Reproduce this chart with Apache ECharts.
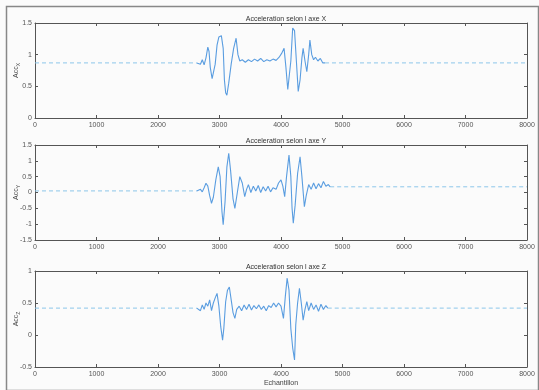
<!DOCTYPE html>
<html>
<head>
<meta charset="utf-8">
<script src="https://cdn.jsdelivr.net/npm/echarts@6/dist/echarts.min.js"></script>
<style>
  html, body { margin: 0; padding: 0; background: #fff; }
  #main { width: 539px; height: 390px; }
</style>
</head>
<body>
<div id="main"></div>
<script>
// acceleration data, [sample, value]
var titles = ['Acceleration selon l axe X', 'Acceleration selon l axe Y', 'Acceleration selon l axe Z'];
var yNames = ['X', 'Y', 'Z'];
var xLabel = 'Echantillon';

var yMin = [0, -1.5, -0.5];
var yMax = [1.5, 1.5, 1];

var calmX = [[[0, 0.87], [2630, 0.87]], [[4715, 0.87], [8000, 0.87]]];
var activeX = [[2630,0.87],[2660,0.9],[2690,0.85],[2720,0.92],[2750,0.84],[2780,0.95],[2810,1.12],[2830,1.05],[2850,0.8],
  [2880,0.62],[2900,0.6],[2930,0.85],[2960,1.15],[2990,1.28],[3030,1.3],[3060,1.1],[3080,0.6],[3100,0.4],[3120,0.36],
  [3150,0.55],[3190,0.85],[3230,1.1],[3270,1.26],[3300,1.0],[3330,0.9],[3370,0.92],[3420,0.88],[3470,0.92],[3520,0.89],
  [3570,0.93],[3620,0.9],[3670,0.94],[3720,0.89],[3770,0.92],[3820,0.9],[3870,0.93],[3920,0.91],[3970,0.96],[4010,1.02],
  [4050,1.1],[4080,0.8],[4110,0.45],[4130,0.42],[4160,0.9],[4190,1.42],[4220,1.38],[4250,0.9],[4280,0.42],[4310,0.6],
  [4340,0.95],[4360,1.1],[4390,0.9],[4420,0.73],[4450,1.0],[4470,1.23],[4500,1.0],[4530,0.92],[4560,0.96],[4600,0.9],
  [4640,0.94],[4680,0.87],[4715,0.87]];

var calmY = [[[0, 0.05], [2630, 0.05]], [[4800, 0.18], [8000, 0.18]]];
var activeY = [[2630,0.05],[2660,0.0],[2690,0.1],[2720,0.02],[2750,0.15],[2780,0.29],[2810,0.2],[2840,-0.1],[2870,-0.34],
  [2900,-0.15],[2940,0.4],[2980,0.81],[3010,0.5],[3040,-0.6],[3060,-1.02],[3090,-0.3],[3120,0.8],[3150,1.24],[3180,0.7],
  [3220,-0.2],[3250,-0.5],[3290,0.0],[3330,0.5],[3370,0.3],[3410,-0.13],[3440,0.1],[3470,0.25],[3510,0.0],[3550,0.2],
  [3590,0.05],[3630,0.22],[3670,0.0],[3710,0.18],[3750,0.05],[3790,0.2],[3830,0.02],[3870,0.15],[3920,0.1],[3960,0.3],
  [4000,0.4],[4030,0.2],[4060,-0.13],[4090,0.5],[4130,1.18],[4160,0.5],[4180,-0.5],[4200,-0.97],[4230,-0.4],[4270,0.6],
  [4310,1.13],[4340,0.5],[4380,-0.45],[4410,-0.1],[4450,0.25],[4490,0.1],[4530,0.3],[4570,0.12],[4610,0.28],[4650,0.15],
  [4690,0.35],[4730,0.2],[4770,0.25],[4800,0.18]];

var calmZ = [[[0, 0.42], [2630, 0.42]], [[4760, 0.42], [8000, 0.42]]];
var activeZ = [[2630,0.42],[2660,0.45],[2690,0.38],[2720,0.47],[2750,0.4],[2780,0.5],[2810,0.45],[2840,0.55],[2870,0.38],
  [2900,0.5],[2930,0.58],[2960,0.65],[2990,0.45],[3020,0.13],[3050,-0.08],[3070,0.1],[3100,0.52],[3130,0.7],[3160,0.75],
  [3190,0.55],[3220,0.35],[3250,0.26],[3280,0.4],[3320,0.45],[3360,0.38],[3400,0.47],[3440,0.4],[3480,0.48],[3520,0.39],
  [3560,0.46],[3600,0.41],[3640,0.47],[3680,0.4],[3720,0.45],[3760,0.38],[3800,0.46],[3840,0.43],[3880,0.5],[3920,0.44],
  [3960,0.5],[4000,0.45],[4040,0.26],[4070,0.6],[4100,0.89],[4130,0.7],[4160,0.1],[4190,-0.2],[4220,-0.39],[4240,0.16],
  [4270,0.5],[4300,0.73],[4330,0.5],[4360,0.23],[4390,0.4],[4420,0.52],[4450,0.38],[4490,0.5],[4530,0.4],[4570,0.47],
  [4610,0.37],[4650,0.48],[4690,0.4],[4730,0.46],[4760,0.42]];

var calm = [calmX, calmY, calmZ];
var active = [activeX, activeY, activeZ];

var chart = echarts.init(document.getElementById('main'));

var gridTops = [23, 145, 271];
var gridHeights = [95, 95, 96];
var axisCol = '#555';
var labelStyle = { fontSize: 7, color: '#555', fontFamily: 'Liberation Sans' };
var plain = function (v) { return String(v); };

var grids = [], xAxes = [], yAxes = [], series = [], titleList = [];

for (var i = 0; i < 3; i++) {
    grids.push({ left: 35, right: 12, top: gridTops[i], height: gridHeights[i], outerBoundsMode: 'none', containLabel: false });

    titleList.push({
        text: titles[i], left: 281, top: gridTops[i] - 12, textAlign: 'center',
        textStyle: { fontSize: 7, fontWeight: 'normal', color: '#333', fontFamily: 'Liberation Sans' }
    });

    // bottom axis with labels
    xAxes.push({
        type: 'value', gridIndex: i, min: 0, max: 8000, interval: 1000, position: 'bottom',
        axisLine: { onZero: false, lineStyle: { color: axisCol, width: 1 } },
        axisTick: { inside: true, length: 3, lineStyle: { color: axisCol } },
        axisLabel: Object.assign({ margin: 4, formatter: plain }, labelStyle),
        splitLine: { show: false },
        name: i === 2 ? xLabel : '', nameLocation: 'middle', nameGap: 13, nameMoveOverlap: false,
        nameTextStyle: { fontSize: 7, color: '#444', fontFamily: 'Liberation Sans' }
    });
    // top axis, box only
    xAxes.push({
        type: 'value', gridIndex: i, min: 0, max: 8000, interval: 1000, position: 'top',
        axisLine: { onZero: false, lineStyle: { color: axisCol, width: 1 } },
        axisTick: { inside: true, length: 3, lineStyle: { color: axisCol } },
        axisLabel: { show: false }, splitLine: { show: false }
    });

    yAxes.push({
        type: 'value', gridIndex: i, min: yMin[i], max: yMax[i], interval: 0.5, position: 'left',
        axisLine: { onZero: false, lineStyle: { color: axisCol, width: 1 } },
        axisTick: { inside: true, length: 3, lineStyle: { color: axisCol } },
        axisLabel: Object.assign({ margin: 3, formatter: plain }, labelStyle),
        splitLine: { show: false },
        name: '{a|Acc}{s|' + yNames[i] + '}', nameLocation: 'middle', nameRotate: 90, nameGap: 14,
        nameMoveOverlap: false,
        nameTextStyle: {
            color: '#444', fontFamily: 'Liberation Sans',
            rich: { a: { fontSize: 7, color: '#444' }, s: { fontSize: 5, color: '#444', padding: [5, 0, 0, 0] } }
        }
    });
    yAxes.push({
        type: 'value', gridIndex: i, min: yMin[i], max: yMax[i], interval: 0.5, position: 'right',
        axisLine: { onZero: false, lineStyle: { color: axisCol, width: 1 } },
        axisTick: { inside: true, length: 3, lineStyle: { color: axisCol } },
        axisLabel: { show: false }, splitLine: { show: false }
    });

    for (var k = 0; k < calm[i].length; k++) {
        series.push({
            type: 'line', xAxisIndex: 2 * i, yAxisIndex: 2 * i, data: calm[i][k],
            showSymbol: false, silent: true,
            lineStyle: { color: '#8cc6ea', width: 1, type: [4, 3] }
        });
    }
    series.push({
        type: 'line', xAxisIndex: 2 * i, yAxisIndex: 2 * i, data: active[i],
        showSymbol: false, silent: true,
        lineStyle: { color: '#5a9de0', width: 1.1 }
    });
}

chart.setOption({
    backgroundColor: '#fbfbfb',
    animation: false,
    title: titleList,
    grid: grids,
    xAxis: xAxes,
    yAxis: yAxes,
    series: series,
    graphic: [{
        type: 'rect', left: 4, top: 4, silent: true,
        shape: { width: 532, height: 384 },
        style: { fill: 'none', stroke: '#888', lineWidth: 1.5 }
    }]
});
</script>
</body>
</html>
